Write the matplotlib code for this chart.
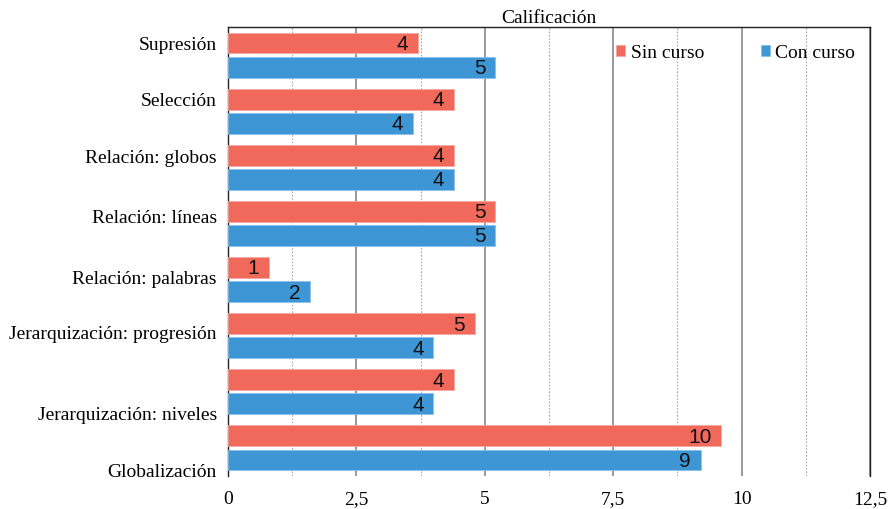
import matplotlib
matplotlib.use("Agg")
import matplotlib.pyplot as plt
from matplotlib.ticker import MultipleLocator, FuncFormatter
import numpy as np

# data (scores out of 12.5)
categorias = ["Supresión", "Selección", "Relación: globos", "Relación: líneas",
              "Relación: palabras", "Jerarquización: progresión",
              "Jerarquización: niveles", "Globalización"]
sin_curso = [3.7, 4.4, 4.4, 5.2, 0.8, 4.8, 4.4, 9.6]
con_curso = [5.2, 3.6, 4.4, 5.2, 1.6, 4.0, 4.0, 9.2]
series = ["Sin curso", "Con curso"]
x_ticks = [0, 2.5, 5, 7.5, 10, 12.5]

# layout: where the category labels sit (they drift in the original)
label_pos = [-0.21, 0.80, 1.81, 2.87, 3.96, 4.95, 6.38, 7.40]

RED = "#F0695B"
BLUE = "#3F96D4"
SERIF = "Liberation Serif"
FS = 14

fig = plt.figure(figsize=(8.9, 5.09), dpi=100)
ax = fig.add_axes([228 / 890, 1 - 476 / 509, 642 / 890, 449 / 509])

y = np.arange(len(categorias))
h = 0.37
off = 0.215
b1 = ax.barh(y - off, sin_curso, height=h, color=RED, edgecolor="#F7A89F",
             linewidth=0.6, label=series[0], zorder=3)
b2 = ax.barh(y + off, con_curso, height=h, color=BLUE, edgecolor="#8CC0E8",
             linewidth=0.6, label=series[1], zorder=3)

for bars, vals in ((b1, sin_curso), (b2, con_curso)):
    for rect, v in zip(bars, vals):
        ax.annotate(f"{round(v):d}", xy=(v, rect.get_y() + rect.get_height() / 2),
                    xytext=(-7, -1), textcoords="offset points",
                    ha="right", va="center", fontsize=15,
                    family="Liberation Sans", color="#111111", zorder=4)

ax.set_xlim(0, 12.5)
ax.set_ylim(7.5, -0.5)
ax.set_xticks(x_ticks)
ax.xaxis.set_major_formatter(FuncFormatter(lambda v, p: f"{v:g}".replace(".", ",")))
ax.xaxis.set_minor_locator(MultipleLocator(1.25))
ax.set_yticks(label_pos)
ax.set_yticklabels(categorias)
ax.tick_params(axis="both", which="both", length=0, labelsize=FS)
ax.tick_params(axis="x", pad=11)
ax.tick_params(axis="y", pad=8)
for lab in ax.get_xticklabels() + ax.get_yticklabels():
    lab.set_family(SERIF)

ax.grid(axis="x", which="major", color="#7F7F7F", linewidth=1.1, zorder=0)
ax.grid(axis="x", which="minor", color="#A6A6A6", linewidth=0.8,
        linestyle=(0, (1.5, 1.5)), zorder=0)

ax.spines["bottom"].set_visible(False)
for s in ("left", "top", "right"):
    ax.spines[s].set_color("#222222")
    ax.spines[s].set_linewidth(1.0)

ax.set_title("Calificación", fontsize=FS, family=SERIF, pad=1)

ax.legend(loc="center left", bbox_to_anchor=(0.605, 0.942), ncol=2, frameon=False,
          prop={"family": SERIF, "size": FS}, handlelength=0.45,
          handleheight=0.45, handletextpad=0.3, columnspacing=2.9,
          borderpad=0, borderaxespad=0)

fig.savefig("out.png", dpi=100, facecolor="white")
